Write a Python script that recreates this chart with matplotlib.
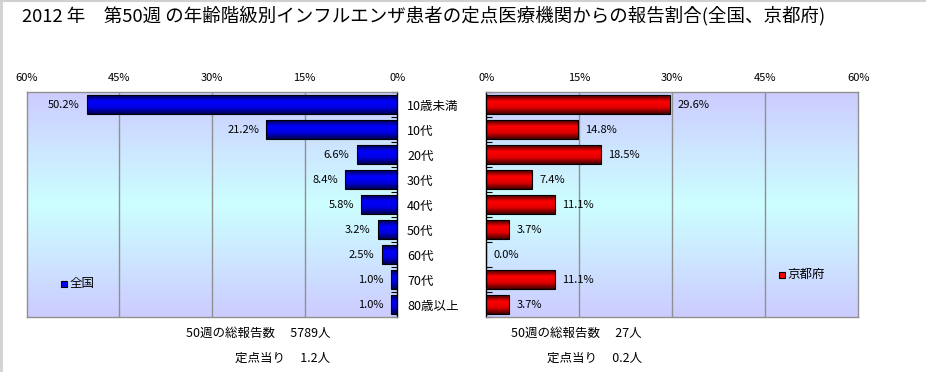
import matplotlib
matplotlib.use("Agg")
import matplotlib.pyplot as plt
from matplotlib.colors import LinearSegmentedColormap
from matplotlib.ticker import FuncFormatter, FixedLocator
from matplotlib.lines import Line2D
import numpy as np

plt.rcParams['font.family'] = ['Noto Sans CJK JP', 'DejaVu Sans']

# data
categories = ['10歳未満', '10代', '20代', '30代', '40代', '50代', '60代', '70代', '80歳以上']
zenkoku = [50.2, 21.2, 6.6, 8.4, 5.8, 3.2, 2.5, 1.0, 1.0]
kyoto = [29.6, 14.8, 18.5, 7.4, 11.1, 3.7, 0.0, 11.1, 3.7]
xticks = [0, 15, 30, 45, 60]
title = '2012 年　第50週 の年齢階級別インフルエンザ患者の定点医療機関からの報告割合(全国、京都府)'
left_notes = ['50週の総報告数　 5789人', '定点当り　 1.2人']
right_notes = ['50週の総報告数　 27人', '定点当り　 0.2人']

W, H = 926, 372
fig = plt.figure(figsize=(W / 100, H / 100), dpi=100)
fig.patch.set_facecolor('white')
# thin gray border on top and left edge
fig.add_artist(Line2D([0.001, 0.001], [0, 1], transform=fig.transFigure, color='#d0d0d0', linewidth=2))
fig.add_artist(Line2D([0, 1], [0.998, 0.998], transform=fig.transFigure, color='#d0d0d0', linewidth=1.5))

bg_cmap = LinearSegmentedColormap.from_list('bg', ['#ccccff', '#ccffff', '#ccccff'])
blue_cmap = LinearSegmentedColormap.from_list('b', ['#000050', '#0000ff', '#0000e0', '#000050'])
red_cmap = LinearSegmentedColormap.from_list('r', ['#400000', '#ff0000', '#e00000', '#400000'])
grad = np.linspace(0, 1, 64).reshape(-1, 1)


def px_axes(x0, x1, y0, y1):
    return fig.add_axes([x0 / W, 1 - y1 / H, (x1 - x0) / W, (y1 - y0) / H])


def draw_panel(ax, values, cmap, side):
    n = len(values)
    y = np.arange(n)
    ax.imshow(grad, extent=[0, 1, 0, 1], transform=ax.transAxes, cmap=bg_cmap,
              aspect='auto', zorder=0)
    bars = ax.barh(y, values, height=0.75, color='none', edgecolor='black',
                   linewidth=0.8, zorder=3)
    for b, v in zip(bars, values):
        if v <= 0:
            continue
        x0, y0 = b.get_x(), b.get_y()
        im = ax.imshow(grad, extent=[x0, x0 + b.get_width(), y0 + b.get_height(), y0],
                       cmap=cmap, aspect='auto', zorder=2, origin='upper')
        im.set_clip_path(b)
    ax.set_xlim(0, 60)
    ax.set_ylim(n - 0.5, -0.5)
    for g in [15, 30, 45]:
        ax.axvline(g, color='#909090', linewidth=1, zorder=1)
    ax.xaxis.tick_top()
    ax.set_xticks(xticks)
    ax.xaxis.set_major_formatter(FuncFormatter(lambda v, p: f'{v:.0f}%'))
    ax.tick_params(axis='x', length=0, pad=7, labelsize=8)
    ax.set_yticks(y)
    ax.yaxis.set_minor_locator(FixedLocator(np.arange(n + 1) - 0.5))
    ax.tick_params(axis='y', which='major', length=0)
    ax.tick_params(axis='y', which='minor', direction='in', length=4, width=0.8)
    for s in ax.spines.values():
        s.set_color('#909090')
        s.set_linewidth(1)
    for yi, v in zip(y, values):
        if side == 'left':
            ax.text(v + 1.2, yi, f'{v:.1f}%', ha='right', va='center', fontsize=8, zorder=4)
        else:
            ax.text(v + 1.2, yi, f'{v:.1f}%', ha='left', va='center', fontsize=8, zorder=4)


axL = px_axes(26.7, 397.3, 92.3, 317.3)
draw_panel(axL, zenkoku, blue_cmap, 'left')
axL.invert_xaxis()
axL.yaxis.tick_right()
axL.set_yticklabels(categories, fontsize=9, ha='left')
axL.tick_params(axis='y', which='major', pad=7)
axL.tick_params(axis='y', which='minor', right=True, left=False)
axL.spines['right'].set_color('black')

axR = px_axes(486.3, 858.3, 92.3, 317.3)
draw_panel(axR, kyoto, red_cmap, 'right')
axR.set_yticklabels([])
axR.spines['left'].set_color('black')

# legends
axL.plot([0.1], [0.15], marker='s', markersize=5, color='#0000ff', markeredgecolor='black',
         markeredgewidth=0.8, transform=axL.transAxes, zorder=5, clip_on=False)
axL.text(0.115, 0.15, '全国', transform=axL.transAxes, fontsize=9, va='center', ha='left')
axR.plot([0.795], [0.19], marker='s', markersize=5, color='#ff0000', markeredgecolor='black',
         markeredgewidth=0.8, transform=axR.transAxes, zorder=5, clip_on=False)
axR.text(0.81, 0.19, '京都府', transform=axR.transAxes, fontsize=9, va='center', ha='left')

fig.text(22 / W, 1 - 16 / H, title, fontsize=13.3, va='center', ha='left')

fig.text(330 / W, 1 - 333 / H, left_notes[0], fontsize=9, ha='right', va='center')
fig.text(330 / W, 1 - 358 / H, left_notes[1], fontsize=9, ha='right', va='center')
fig.text(642 / W, 1 - 333 / H, right_notes[0], fontsize=9, ha='right', va='center')
fig.text(642 / W, 1 - 358 / H, right_notes[1], fontsize=9, ha='right', va='center')

fig.savefig('out.png', dpi=100)
